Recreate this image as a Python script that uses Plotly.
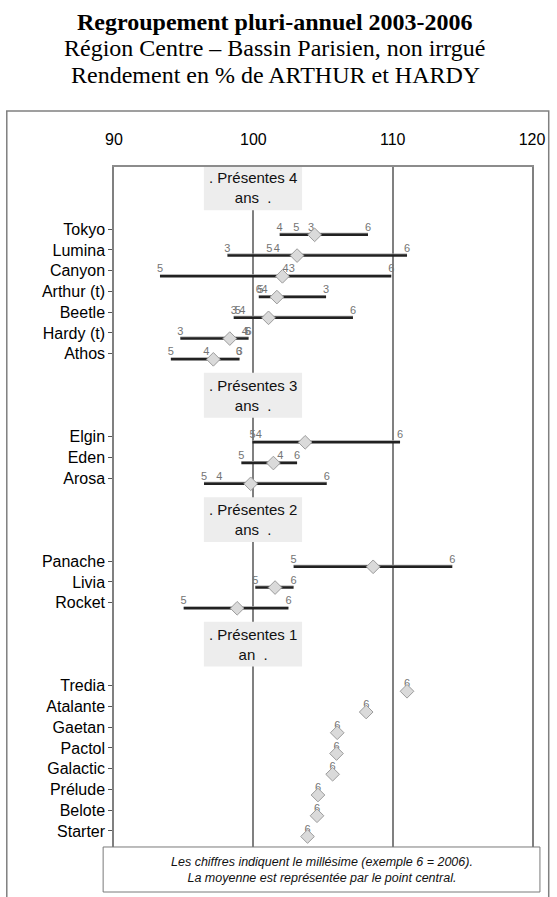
import plotly.graph_objects as go

# ---------------- data ----------------
varieties = ["Tokyo", "Lumina", "Canyon", "Arthur (t)", "Beetle", "Hardy (t)", "Athos",
             "Elgin", "Eden", "Arosa",
             "Panache", "Livia", "Rocket",
             "Tredia", "Atalante", "Gaetan", "Pactol", "Galactic", "Prélude", "Belote", "Starter"]
# row slot of each variety on the category axis (blank slots hold the group headers)
row_pos = [4, 5, 6, 7, 8, 9, 10,
           14, 15, 16,
           20, 21, 22,
           26, 27, 28, 29, 30, 31, 32, 33]

N = None
y2003 = [104.15, 98.14, 102.77, 105.22, 98.59, 94.76, 99.01,
         N, N, N, N, N, N, N, N, N, N, N, N, N, N]
y2004 = [101.89, 101.69, 102.32, 100.81, 99.21, 99.39, 96.63,
         100.39, 101.94, 97.56, N, N, N, N, N, N, N, N, N, N, N]
y2005 = [103.09, 101.14, 93.30, 100.51, 98.89, 99.59, 94.08,
         99.94, 99.14, 96.46, 102.89, 100.14, 95.00, N, N, N, N, N, N, N, N]
y2006 = [108.23, 111.03, 109.90, 100.39, 107.15, 99.66, 98.96,
         110.53, 103.14, 105.27, 114.28, 102.89, 102.52,
         111.03, 108.10, 106.02, 105.97, 105.69, 104.64, 104.57, 103.89]
means = [104.40, 103.14, 102.09, 101.69, 101.09, 98.31, 97.13,
         103.72, 101.44, 99.81, 108.60, 101.56, 98.84,
         111.03, 108.10, 106.02, 105.97, 105.69, 104.64, 104.57, 103.89]

year_series = [y2003, y2004, y2005, y2006]
year_labels = ["3", "4", "5", "6"]

group_labels = [". Présentes 4<br>ans  .", ". Présentes 3<br>ans  .",
                ". Présentes 2<br>ans  .", ". Présentes 1<br>an  ."]
group_pos = [2, 12, 18, 24]

x_ticks = [90, 100, 110, 120]

title_lines = ["<b>Regroupement pluri-annuel 2003-2006</b>",
               "Région Centre – Bassin Parisien, non irrgué",
               "Rendement en % de ARTHUR et HARDY"]
note_text = ("<i>Les chiffres indiquent le millésime (exemple 6 = 2006).<br>"
             "La moyenne est représentée par le point central.</i>")

# ---------------- styling constants ----------------
OFF = 0.27          # vertical shift of line/diamond below the category tick (in slots)
LAB = -0.05         # vertical shift of year labels
SANS = "Liberation Sans, Arial, sans-serif"
SERIF = "Liberation Serif, Times New Roman, serif"

fig = go.Figure()

# range lines (min to max of the yearly values)
lx, ly = [], []
for i, r in enumerate(row_pos):
    vals = [s[i] for s in year_series if s[i] is not None]
    if len(vals) >= 2:
        lx += [min(vals), max(vals), None]
        ly += [r + OFF, r + OFF, None]
fig.add_trace(go.Scatter(x=lx, y=[v if v is None else v - 0.07 for v in ly],
                         mode="lines", line=dict(color="#a0a0a0", width=1.2),
                         hoverinfo="skip"))
fig.add_trace(go.Scatter(x=lx, y=ly, mode="lines",
                         line=dict(color="#222222", width=2.5), hoverinfo="skip"))

# year labels
for s, lab in zip(year_series, year_labels):
    xs, ys = [], []
    for i, r in enumerate(row_pos):
        if s[i] is not None:
            xs.append(s[i])
            ys.append(r + LAB)
    fig.add_trace(go.Scatter(x=xs, y=ys, mode="text", text=[lab] * len(xs),
                             textposition="middle center",
                             textfont=dict(family=SANS, size=11, color="#747474"),
                             hoverinfo="skip"))

# mean diamonds
fig.add_trace(go.Scatter(x=means, y=[r + OFF for r in row_pos], mode="markers",
                         marker=dict(symbol="diamond", size=10.5, color="#dadada",
                                     line=dict(color="#9c9c9c", width=1)),
                         hoverinfo="skip"))

shapes = []
annotations = []

# group header boxes
for lab, p in zip(group_labels, group_pos):
    shapes.append(dict(type="rect", xref="x", yref="y", x0=96.45, x1=103.5,
                       y0=p - 1.08, y1=p + 1.08, fillcolor="#ededed",
                       line=dict(width=0), layer="above"))
    annotations.append(dict(x=100, y=p, xref="x", yref="y", text=lab, showarrow=False,
                            font=dict(family=SANS, size=15, color="#111111"),
                            align="center"))

# note box
shapes.append(dict(type="rect", xref="paper", yref="paper", x0=-0.026, x1=1.019,
                   y0=-0.0615, y1=0.0044, fillcolor="white",
                   line=dict(color="#7a7a7a", width=1), layer="above"))
annotations.append(dict(x=0.4965, y=-0.0286, xref="paper", yref="paper", text=note_text,
                        showarrow=False, yanchor="middle",
                        font=dict(family=SANS, size=12.5, color="#111111")))

# outer frame
shapes.append(dict(type="rect", xref="paper", yref="paper", x0=-0.2565, x1=1.04,
                   y0=-0.1, y1=1.082, fillcolor="rgba(0,0,0,0)",
                   line=dict(color="#808080", width=1.5), layer="above"))

# title lines
for t, yy in zip(title_lines, [1.2123, 1.1742, 1.1347]):
    annotations.append(dict(x=0.386, y=yy, xref="paper", yref="paper", text=t,
                            showarrow=False, yanchor="middle",
                            font=dict(family=SERIF, size=24, color="black")))

fig.update_layout(
    width=557, height=897,
    margin=dict(l=114, r=18, t=167, b=47),
    plot_bgcolor="white", paper_bgcolor="white",
    showlegend=False,
    shapes=shapes, annotations=annotations,
    xaxis=dict(range=[90, 120], side="top", tickvals=x_ticks,
               ticktext=[str(v) for v in x_ticks],
               showgrid=True, gridcolor="#808080", gridwidth=1.5,
               showline=True, linecolor="#8c8c8c", linewidth=1.5,
               zeroline=False, ticks="", ticklabelstandoff=14,
               tickfont=dict(family=SANS, size=16, color="black")),
    yaxis=dict(range=[33.92, 1], tickvals=row_pos, ticktext=varieties,
               showgrid=False, zeroline=False,
               showline=True, mirror=True, linecolor="#808080", linewidth=1.5,
               ticks="outside", ticklen=4, tickcolor="#555555",
               tickfont=dict(family=SANS, size=16, color="black")),
)

fig.write_html("out.html",
               config={"displayModeBar": False},
               post_script="document.body.style.margin='0';document.body.style.overflow='hidden';")
